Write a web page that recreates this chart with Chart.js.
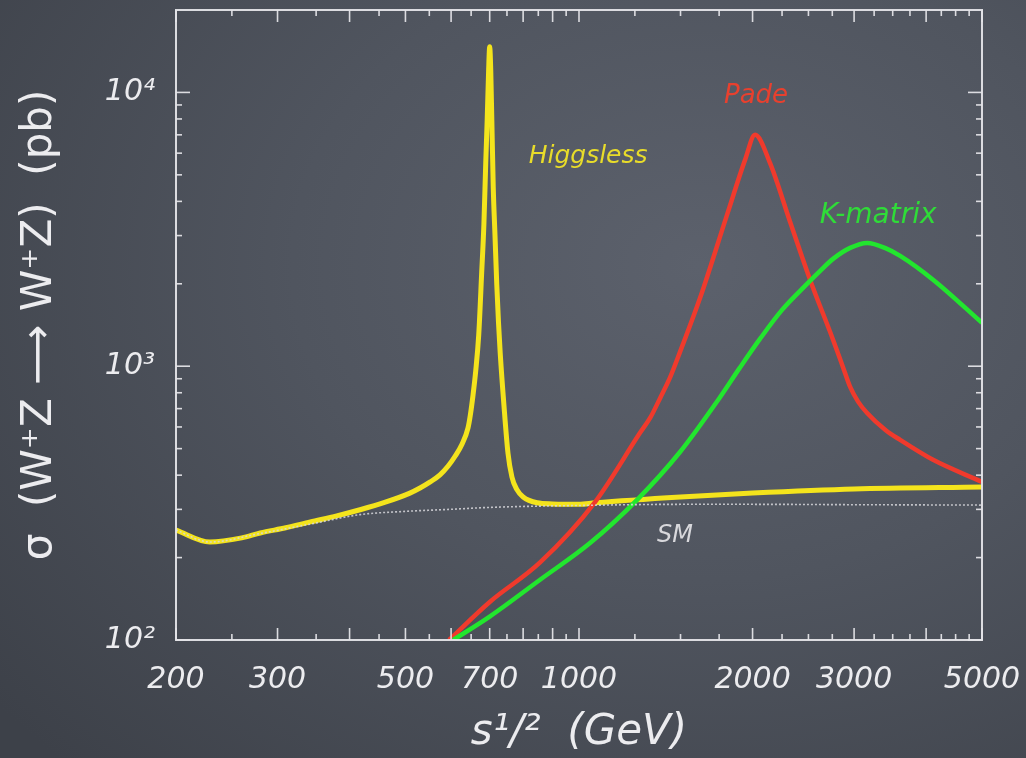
<!DOCTYPE html>
<html><head><meta charset="utf-8">
<script src="https://cdn.jsdelivr.net/npm/chart.js@4.4.1/dist/chart.umd.min.js"></script>
<style>
html,body{margin:0;padding:0;width:1026px;height:758px;overflow:hidden;}
body{background: radial-gradient(ellipse 900px 700px at 68% 35%, #5c616c 0%, #50555f 45%, #3d4149 100%);}
#wrap{position:relative;width:1026px;height:758px;}
</style></head><body>
<div id="wrap"><canvas id="c" width="1026" height="758"></canvas></div>
<script>
// ---- tick labels ----
const xTickValues = [200, 300, 500, 700, 1000, 2000, 3000, 5000];
const yTickValues = [100, 1000, 10000];
const yTickLabels = ['10²', '10³', '10⁴'];

// ---- series (sqrt(s) in GeV, sigma in pb) ----
const higgslessE = [200, 229, 260, 280, 310, 342, 380, 417, 460, 509, 530, 552, 574, 593, 610, 627, 642, 648, 655, 662, 670, 678, 684, 689, 693, 697, 700, 703, 706, 710, 715, 720, 725, 730, 741, 753, 765, 780, 800, 846, 900, 1000, 1066, 1500, 2000, 3000, 5000];
const higgslessSigma = [252, 228, 236, 246, 257, 270, 284, 299, 318, 344, 359, 378, 401, 432, 470, 520, 595, 664, 786, 960, 1300, 2200, 3300, 5500, 7900, 12000, 14680, 12000, 7940, 4520, 3000, 2000, 1450, 1119, 720, 482, 394, 355, 333, 317, 314, 313, 317, 333, 344, 356, 362];

const smE = [200, 229, 280, 342, 417, 500, 597, 700, 1000, 1500, 2000, 3000, 5000];
const smSigma = [252, 228, 245, 265, 287, 295, 300, 305, 310, 313, 313, 312, 311];

const padeE = [595, 701, 856, 1066, 1276, 1330, 1383, 1440, 1497, 1622, 1806, 1941, 2020, 2144, 2323, 2516, 2758, 2870, 2953, 3050, 3160, 3400, 3606, 4112, 5000];
const padeSigma = [100, 138, 192, 319, 571, 650, 766, 914, 1128, 1777, 3570, 5670, 7000, 5530, 3370, 2070, 1250, 992, 840, 741, 675, 585, 538, 455, 378];

const kmatrixE = [605, 701, 856, 1045, 1261, 1497, 1743, 1900, 2060, 2250, 2486, 2620, 2758, 2953, 3160, 3400, 3606, 4112, 5000];
const kmatrixSigma = [100, 122, 166, 226, 325, 486, 753, 986, 1258, 1606, 1998, 2230, 2466, 2705, 2820, 2700, 2529, 2070, 1440];

const toXY = (xs, ys) => xs.map((x, i) => ({x: x, y: ys[i]}));

// ---- in-plot labels (data coordinates) ----
const curveLabels = [
  {text: 'Higgsless', x: 1037, y: 5820, color: '#e8dc2a', size: 25},
  {text: 'Pade', x: 2028, y: 9720, color: '#e8402e', size: 26},
  {text: 'K-matrix', x: 3302, y: 3540, color: '#2fdc38', size: 28},
  {text: 'SM', x: 1467, y: 240, color: '#d8d8dc', size: 24}
];

const frameTicks = {
  id: 'frameTicks',
  afterDatasetsDraw(chart) {
    const {ctx, chartArea: {left, right, top, bottom}, scales: {x, y}} = chart;
    ctx.save();
    ctx.strokeStyle = 'rgba(228,228,232,0.95)';
    ctx.lineWidth = 2;
    ctx.strokeRect(left, top, right - left, bottom - top);
    ctx.lineWidth = 1.6;
    const xMajor = [], xMinor = [];
    for (let v = 200; v <= 1000; v += 50) (v % 100 === 0 ? xMajor : xMinor).push(v);
    for (let v = 1250; v <= 5000; v += 250) (v % 1000 === 0 ? xMajor : xMinor).push(v);
    const yMajor = [100, 1000, 10000], yMinor = [];
    [100, 1000, 10000].forEach(d => { for (let k = 2; k <= 9; k++) if (d * k < 20000) yMinor.push(d * k); });
    const seg = (x1, y1, x2, y2) => { ctx.beginPath(); ctx.moveTo(x1, y1); ctx.lineTo(x2, y2); ctx.stroke(); };
    xMajor.forEach(v => { const p = x.getPixelForValue(v); seg(p, bottom, p, bottom - 12); seg(p, top, p, top + 12); });
    xMinor.forEach(v => { const p = x.getPixelForValue(v); seg(p, bottom, p, bottom - 6); seg(p, top, p, top + 6); });
    yMajor.forEach(v => { const p = y.getPixelForValue(v); seg(left, p, left + 14, p); seg(right, p, right - 14, p); });
    yMinor.forEach(v => { const p = y.getPixelForValue(v); seg(left, p, left + 6, p); seg(right, p, right - 6, p); });
    ctx.restore();
  }
};

const labelsPlugin = {
  id: 'curveLabels',
  afterDatasetsDraw(chart) {
    const {ctx, scales: {x, y}} = chart;
    ctx.save();
    ctx.textAlign = 'center';
    ctx.textBaseline = 'middle';
    curveLabels.forEach(l => {
      ctx.font = 'oblique ' + l.size + 'px "DejaVu Sans"';
      ctx.fillStyle = l.color;
      ctx.fillText(l.text, x.getPixelForValue(l.x), y.getPixelForValue(l.y));
    });
    ctx.restore();
  }
};

const textColor = '#ececef';
new Chart(document.getElementById('c'), {
  type: 'line',
  data: {
    datasets: [
      {label: 'SM', data: toXY(smE, smSigma), borderColor: 'rgba(215,215,220,0.85)', borderWidth: 1.6, borderDash: [2, 2], pointRadius: 0, cubicInterpolationMode: 'monotone'},
      {label: 'K-matrix', data: toXY(kmatrixE, kmatrixSigma), borderColor: '#22e62e', borderWidth: 4.5, pointRadius: 0, cubicInterpolationMode: 'monotone'},
      {label: 'Pade', data: toXY(padeE, padeSigma), borderColor: '#f03a2c', borderWidth: 4.5, pointRadius: 0, cubicInterpolationMode: 'monotone'},
      {label: 'Higgsless', data: toXY(higgslessE, higgslessSigma), borderColor: '#f4e41c', borderWidth: 5, pointRadius: 0, cubicInterpolationMode: 'monotone'}
    ]
  },
  options: {
    responsive: false,
    animation: false,
    devicePixelRatio: 1,
    layout: {padding: {top: 10, right: 44, left: 0, bottom: 0}},
    plugins: {legend: {display: false}, tooltip: {enabled: false}},
    scales: {
      x: {
        type: 'logarithmic', min: 200, max: 5000,
        grid: {display: false}, border: {display: false},
        afterFit: s => { s.height = 118; s.paddingLeft = 0; s.paddingRight = 0; },
        afterBuildTicks: s => { s.ticks = xTickValues.map(v => ({value: v})); },
        ticks: {color: textColor, padding: 14, maxRotation: 0, autoSkip: false,
          font: {family: 'DejaVu Sans', style: 'oblique', size: 30},
          callback: v => String(v)},
        title: {display: true, text: 's¹/²  (GeV)', color: textColor, padding: {top: 0, bottom: 0},
          font: {family: 'DejaVu Sans', style: 'oblique', size: 42}}
      },
      y: {
        type: 'logarithmic', min: 100, max: 20000,
        grid: {display: false}, border: {display: false},
        afterFit: s => { s.width = 176; s.paddingTop = 0; s.paddingBottom = 0; },
        afterBuildTicks: s => { s.ticks = yTickValues.map(v => ({value: v})); },
        ticks: {color: textColor, padding: 13, autoSkip: false,
          font: {family: 'DejaVu Sans', style: 'oblique', size: 30},
          callback: v => yTickLabels[yTickValues.indexOf(v)] || ''},
        title: {display: true, text: 'σ  (W⁺Z ⟶ W⁺Z)  (pb)', color: textColor, padding: {top: 15, bottom: 0},
          font: {family: 'DejaVu Sans', size: 42}}
      }
    }
  },
  plugins: [frameTicks, labelsPlugin]
});
</script>
</body></html>
